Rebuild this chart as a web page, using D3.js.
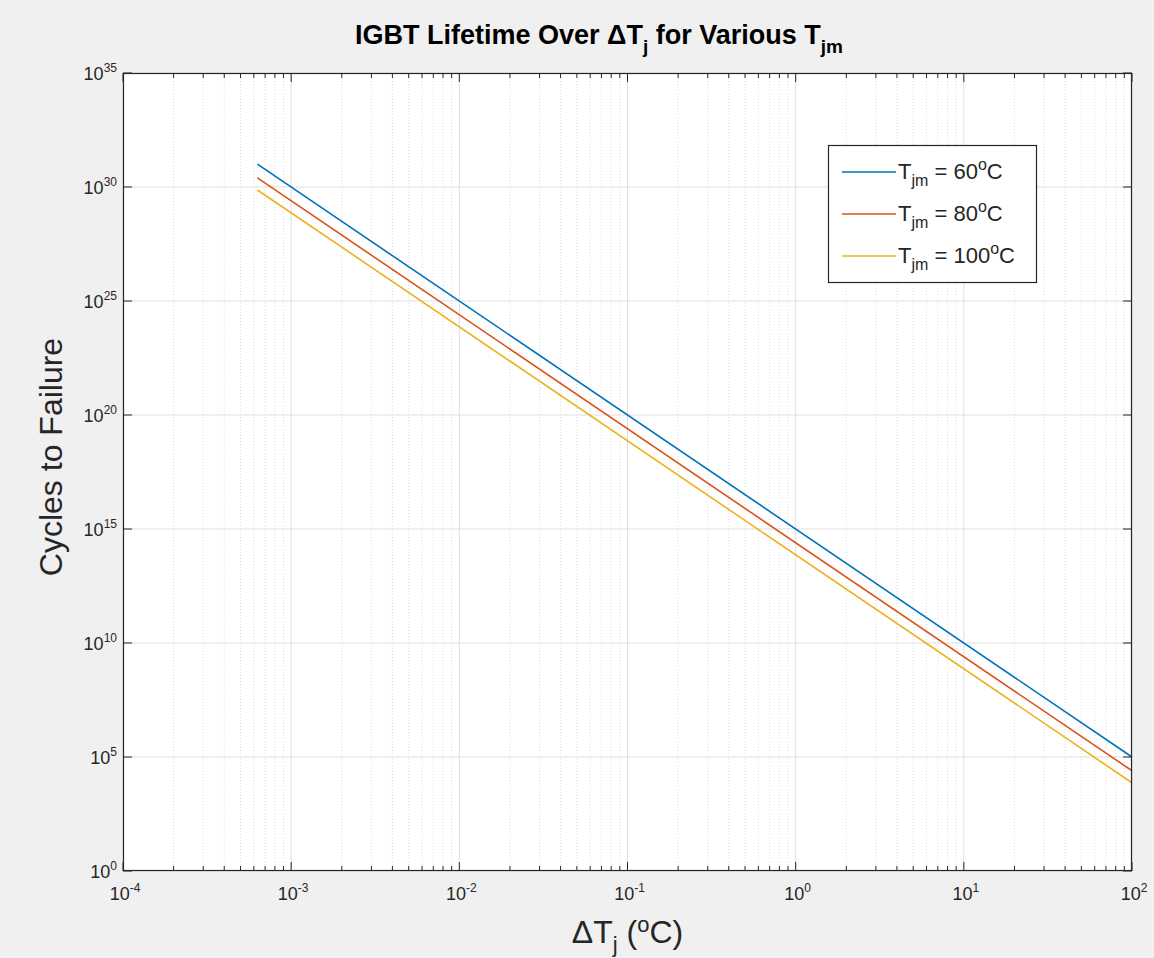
<!DOCTYPE html>
<html>
<head>
<meta charset="utf-8">
<script src="https://cdn.jsdelivr.net/npm/d3@7"></script>
<style>
  html, body { margin: 0; padding: 0; background: #f0f0f0; }
  text { font-family: "Liberation Sans", Arial, Helvetica, sans-serif; }
</style>
</head>
<body>
<div id="container"></div>
<script>
/**
 * CONSTANTS AND GLOBALS
 * */
const width = 1154,
  height = 958,
  margin = { top: 73, bottom: 87, left: 123, right: 22 };

// data: each curve is a straight line on log-log axes
const dTj = [6.3e-4, 100];                 // x, deg C
const cycles60 = [1.0e31, 1.0e5];
const cycles80 = [2.5e30, 2.5e4];
const cycles100 = [7.4e29, 7.4e3];
const tjmLabels = ["60", "80", "100"];
const seriesColors = ["#0072bd", "#d95319", "#edb120"];

const xTickExp = [-4, -3, -2, -1, 0, 1, 2];
const yTickExp = [0, 5, 10, 15, 20, 25, 30, 35];

const seriesList = [cycles60, cycles80, cycles100];

const axisColor = "#262626";

/**
 * SCALES
 * */
const xScale = d3.scaleLog()
  .domain([1e-4, 1e2])
  .range([margin.left, width - margin.right]);

const yScale = d3.scaleLog()
  .domain([1e0, 1e35])
  .range([height - margin.bottom, margin.top]);

const x0 = margin.left, x1 = width - margin.right;
const y0 = height - margin.bottom, y1 = margin.top;

const svg = d3.select("#container").append("svg")
  .attr("width", width)
  .attr("height", height);

// plot background
svg.append("rect")
  .attr("x", x0).attr("y", y1)
  .attr("width", x1 - x0).attr("height", y0 - y1)
  .attr("fill", "white");

// minor x positions (2..9 x 10^k)
const xMinor = [];
xTickExp.slice(0, -1).forEach(e => {
  for (let m = 2; m <= 9; m++) xMinor.push(m * Math.pow(10, e));
});

// GRID
svg.append("g").selectAll("line")
  .data(xMinor)
  .join("line")
  .attr("x1", d => xScale(d)).attr("x2", d => xScale(d))
  .attr("y1", y0).attr("y2", y1)
  .attr("stroke", "#dcdcdc")
  .attr("stroke-dasharray", "1,2");

svg.append("g").selectAll("line")
  .data(xTickExp)
  .join("line")
  .attr("x1", d => xScale(Math.pow(10, d))).attr("x2", d => xScale(Math.pow(10, d)))
  .attr("y1", y0).attr("y2", y1)
  .attr("stroke", "#dfdfdf");

svg.append("g").selectAll("line")
  .data(yTickExp)
  .join("line")
  .attr("y1", d => yScale(Math.pow(10, d))).attr("y2", d => yScale(Math.pow(10, d)))
  .attr("x1", x0).attr("x2", x1)
  .attr("stroke", "#dfdfdf");

// LINES
const lineGen = d3.line()
  .x(d => xScale(d[0]))
  .y(d => yScale(d[1]));

svg.append("g").selectAll("path")
  .data(seriesList)
  .join("path")
  .attr("d", s => lineGen(dTj.map((x, i) => [x, s[i]])))
  .attr("fill", "none")
  .attr("stroke", (s, i) => seriesColors[i])
  .attr("stroke-width", 1.6);

// BOX + TICKS (inward, on all four sides)
const axes = svg.append("g").attr("stroke", axisColor).attr("fill", "none");
axes.append("rect")
  .attr("x", x0 + 0.5).attr("y", y1 + 0.5)
  .attr("width", x1 - x0 - 1).attr("height", y0 - y1 - 1)
  .attr("stroke-width", 1.2);

const majorLen = 9, minorLen = 5;
xTickExp.forEach(e => {
  const x = xScale(Math.pow(10, e));
  axes.append("line").attr("x1", x).attr("x2", x).attr("y1", y0).attr("y2", y0 - majorLen);
  axes.append("line").attr("x1", x).attr("x2", x).attr("y1", y1).attr("y2", y1 + majorLen);
});
xMinor.forEach(v => {
  const x = xScale(v);
  axes.append("line").attr("x1", x).attr("x2", x).attr("y1", y0).attr("y2", y0 - minorLen);
  axes.append("line").attr("x1", x).attr("x2", x).attr("y1", y1).attr("y2", y1 + minorLen);
});
yTickExp.forEach(e => {
  const y = yScale(Math.pow(10, e));
  axes.append("line").attr("y1", y).attr("y2", y).attr("x1", x0).attr("x2", x0 + majorLen);
  axes.append("line").attr("y1", y).attr("y2", y).attr("x1", x1).attr("x2", x1 - majorLen);
});

// helper: "10" with superscript exponent
function powLabel(sel, e) {
  sel.append("tspan").text("10");
  sel.append("tspan").attr("dy", -8).attr("font-size", 12).text(e < 0 ? "-" + (-e) : e);
}

// TICK LABELS
svg.append("g").selectAll("text")
  .data(xTickExp)
  .join("text")
  .attr("x", d => xScale(Math.pow(10, d)) + 2)
  .attr("y", y0 + 29)
  .attr("text-anchor", "middle")
  .attr("font-size", 18)
  .attr("fill", axisColor)
  .each(function(d) { powLabel(d3.select(this), d); });

svg.append("g").selectAll("text")
  .data(yTickExp)
  .join("text")
  .attr("x", x0 - 6)
  .attr("y", d => yScale(Math.pow(10, d)) + 7)
  .attr("text-anchor", "end")
  .attr("font-size", 18)
  .attr("fill", axisColor)
  .each(function(d) { powLabel(d3.select(this), d); });

// TITLE
const title = svg.append("text")
  .attr("x", 355).attr("y", 44)
  .attr("font-size", 27)
  .attr("font-weight", "bold")
  .attr("fill", "black");
title.append("tspan").text("IGBT Lifetime Over \u0394T");
title.append("tspan").attr("dy", 9).attr("font-size", 19).text("j");
title.append("tspan").attr("dy", -9).text(" for Various T");
title.append("tspan").attr("dy", 9).attr("font-size", 19).text("jm");

// X LABEL
const xlab = svg.append("text")
  .attr("x", (x0 + x1) / 2).attr("y", 943)
  .attr("text-anchor", "middle")
  .attr("font-size", 32)
  .attr("fill", axisColor);
xlab.append("tspan").text("\u0394T");
xlab.append("tspan").attr("dy", 9).attr("font-size", 22).text("j");
xlab.append("tspan").attr("dy", -9).text(" (");
xlab.append("tspan").attr("dy", -11).attr("font-size", 22).text("o");
xlab.append("tspan").attr("dy", 11).text("C)");

// Y LABEL
svg.append("text")
  .attr("transform", `translate(62, 457) rotate(-90)`)
  .attr("text-anchor", "middle")
  .attr("font-size", 32)
  .attr("fill", axisColor)
  .text("Cycles to Failure");

// LEGEND
const legend = svg.append("g");
legend.append("rect")
  .attr("x", 828.5).attr("y", 145.5)
  .attr("width", 208).attr("height", 137)
  .attr("fill", "white")
  .attr("stroke", axisColor)
  .attr("stroke-width", 1.2);

tjmLabels.forEach((t, i) => {
  const y = 172 + i * 42;
  legend.append("line")
    .attr("x1", 842).attr("x2", 896)
    .attr("y1", y).attr("y2", y)
    .attr("stroke", seriesColors[i])
    .attr("stroke-width", 1.6);
  const txt = legend.append("text")
    .attr("x", 898).attr("y", y + 7)
    .attr("font-size", 22)
    .attr("fill", axisColor);
  txt.append("tspan").text("T");
  txt.append("tspan").attr("dy", 7).attr("font-size", 16).text("jm");
  txt.append("tspan").attr("dy", -7).text(" = " + t);
  txt.append("tspan").attr("dy", -9).attr("font-size", 16).text("o");
  txt.append("tspan").attr("dy", 9).text("C");
});
</script>
</body>
</html>
